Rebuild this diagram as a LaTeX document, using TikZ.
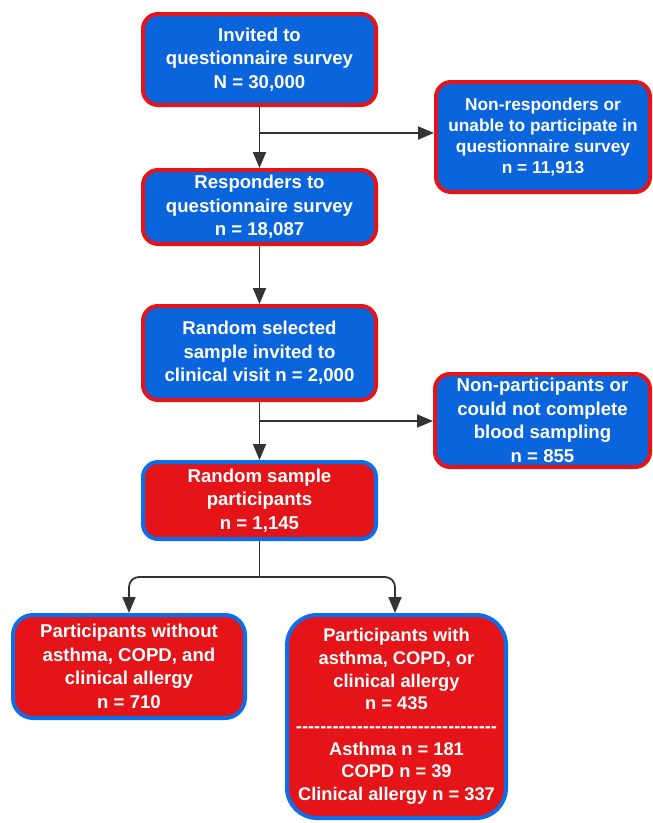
\documentclass[tikz,border=0pt]{standalone}
\usepackage{fontspec}
\setmainfont{Liberation Sans}
\usetikzlibrary{arrows.meta}
\definecolor{boxblue}{RGB}{10,100,220}
\definecolor{boxred}{RGB}{228,20,24}
\definecolor{edgeblue}{RGB}{12,110,232}
\definecolor{arrowgray}{RGB}{51,51,51}
\newcommand\dashrow{\foreach \i in {1,...,33}{-\kern0pt}}
\begin{document}
\begin{tikzpicture}[x=1pt,y=-1pt,
  basebox/.style={rectangle, line width=4pt, text=white, align=center, inner sep=0pt,
    font=\fontsize{18.6}{23.5}\selectfont\bfseries},
  bluebox/.style={basebox, fill=boxblue, draw=boxred, rounded corners=15pt},
  redbox/.style={basebox, fill=boxred, draw=edgeblue, rounded corners=15pt},
  arr/.style={draw=arrowgray, line width=1.8pt, -{Triangle[length=16pt,width=13pt]}},
  ln/.style={draw=arrowgray, line width=1.8pt}]
\useasboundingbox (0,0) rectangle (653,823);

\node[bluebox, minimum width=233pt, minimum height=91pt] (b1) at (259.5,59.5)
  {Invited to\\questionnaire survey\\N = 30,000};
\node[bluebox, minimum width=214pt, minimum height=110pt, font=\fontsize{17.3}{20.8}\selectfont\bfseries] (r1) at (543,137)
  {Non-responders or\\unable to participate in\\questionnaire survey\\n = 11,913};
\node[bluebox, minimum width=233pt, minimum height=74pt] (b2) at (259.5,207)
  {Responders to\\questionnaire survey\\n = 18,087};
\node[bluebox, minimum width=233pt, minimum height=94pt] (b3) at (259.5,353)
  {Random selected\\sample invited to\\clinical visit n = 2,000};
\node[bluebox, minimum width=215pt, minimum height=93pt] (r2) at (542.5,420.5)
  {Non-participants or\\could not complete\\blood sampling\\n = 855};
\node[redbox, minimum width=233pt, minimum height=77pt] (b4) at (259.5,500.5)
  {Random sample\\participants\\n = 1,145};
\node[redbox, minimum width=232pt, minimum height=103pt, rounded corners=20pt] (b5) at (129,666.5)
  {Participants without\\asthma, COPD, and\\clinical allergy\\n = 710};
\node[redbox, minimum width=219pt, minimum height=203pt, rounded corners=30pt,
  font=\fontsize{18.3}{22.7}\selectfont\bfseries] (b6) at (396.5,716.5)
  {Participants with\\asthma, COPD, or\\clinical allergy\\n = 435\\\dashrow\\Asthma n = 181\\COPD n = 39\\Clinical allergy n = 337};

\draw[arr] (b1) -- (b2);
\coordinate (j1) at (259.5,133);
\draw[arr] (j1) -- (j1 -| r1.west);
\draw[arr] (b2) -- (b3);
\draw[arr] (b3) -- (b4);
\coordinate (j2) at (259.5,421);
\draw[arr] (j2) -- (j2 -| r2.west);
\coordinate (j3) at (259.5,577);
\draw[ln] (b4.south) -- (j3);
\draw[arr, rounded corners=10pt] (j3) -- (j3 -| b5.north) -- (b5.north);
\draw[arr, rounded corners=10pt] (j3) -- ([xshift=-1.5pt]j3 -| b6.north) -- ([xshift=-1.5pt]b6.north);
\end{tikzpicture}
\end{document}
